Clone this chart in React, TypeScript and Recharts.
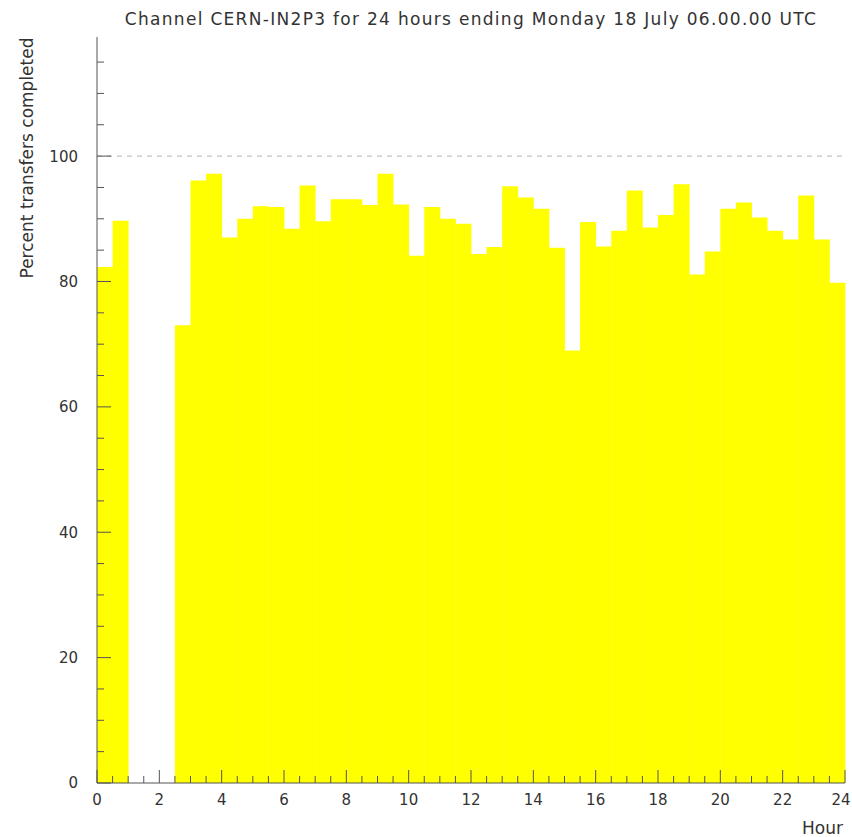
import { BarChart, Bar, XAxis, YAxis, ReferenceLine } from 'recharts'

const TITLE = 'Channel CERN-IN2P3 for 24 hours ending Monday 18 July 06.00.00 UTC'
const Y_LABEL = 'Percent transfers completed'
const X_LABEL = 'Hour'

// half-hour bins, centre of each bin (hours)
const BIN_CENTRES = [
  0.25, 0.75, 1.25, 1.75, 2.25, 2.75, 3.25, 3.75, 4.25, 4.75, 5.25, 5.75,
  6.25, 6.75, 7.25, 7.75, 8.25, 8.75, 9.25, 9.75, 10.25, 10.75, 11.25, 11.75,
  12.25, 12.75, 13.25, 13.75, 14.25, 14.75, 15.25, 15.75, 16.25, 16.75, 17.25, 17.75,
  18.25, 18.75, 19.25, 19.75, 20.25, 20.75, 21.25, 21.75, 22.25, 22.75, 23.25, 23.75,
]

// percent of transfers completed in each bin
const PERCENT = [
  82.3, 89.7, 0, 0, 0, 73.0, 96.1, 97.2, 87.0, 90.0, 92.0, 91.9,
  88.4, 95.3, 89.6, 93.1, 93.1, 92.2, 97.2, 92.3, 84.1, 91.9, 90.0, 89.2,
  84.4, 85.5, 95.2, 93.4, 91.6, 85.4, 69.0, 89.5, 85.6, 88.1, 94.5, 88.6,
  90.6, 95.5, 81.1, 84.8, 91.6, 92.6, 90.2, 88.1, 86.7, 93.7, 86.7, 79.8,
]

const Y_TICKS = [0, 5, 10, 15, 20, 25, 30, 35, 40, 45, 50, 55, 60, 65, 70, 75, 80, 85, 90, 95, 100, 105, 110, 115]
const Y_LABELLED = [0, 20, 40, 60, 80, 100]
const X_TICKS = [
  0, 0.5, 1, 1.5, 2, 2.5, 3, 3.5, 4, 4.5, 5, 5.5, 6, 6.5, 7, 7.5, 8, 8.5, 9, 9.5, 10, 10.5, 11, 11.5,
  12, 12.5, 13, 13.5, 14, 14.5, 15, 15.5, 16, 16.5, 17, 17.5, 18, 18.5, 19, 19.5, 20, 20.5, 21, 21.5,
  22, 22.5, 23, 23.5, 24,
]
const X_LABELLED = [0, 2, 4, 6, 8, 10, 12, 14, 16, 18, 20, 22, 24]

const W = 852
const H = 837
const FONT = '"DejaVu Sans", sans-serif'
const INK = '#333'
const AXIS = '#555'
const FRAME = '#a8a8a8'
const Y_MARGIN = 19

const data = BIN_CENTRES.map((hour, i) => ({ hour, pct: PERCENT[i] }))

function YTick(props: any) {
  const { x, y, payload } = props
  const axisX = x + Y_MARGIN
  const major = Y_LABELLED.includes(payload.value)
  return (
    <g>
      <line x1={axisX} x2={axisX + (major ? 14 : 7)} y1={y} y2={y} stroke={AXIS} />
      {major && (
        <text x={x} y={y} dy="0.36em" textAnchor="end" fontSize={15} fontFamily={FONT} fill={INK}>
          {payload.value}
        </text>
      )}
    </g>
  )
}

function XTick(props: any) {
  const { x, y, payload } = props
  const major = X_LABELLED.includes(payload.value)
  // keep the last label ("24") inside the page
  const tx = Math.min(x, W - 11)
  return (
    <g>
      <line x1={x} x2={x} y1={y} y2={y - (major ? 13 : 7)} stroke={AXIS} />
      {major && (
        <text x={tx} y={y + 22} textAnchor="middle" fontSize={15} fontFamily={FONT} fill={INK}>
          {payload.value}
        </text>
      )}
    </g>
  )
}

export default function App() {
  return (
    <div style={{ position: 'absolute', left: 0, top: 0, width: W, height: H, background: '#fff', fontFamily: FONT, color: INK }}>
      <div
        style={{
          position: 'absolute', left: 97, top: 11, width: 748, textAlign: 'center',
          fontSize: 17, lineHeight: '17px', letterSpacing: 1.3, whiteSpace: 'nowrap',
        }}
      >
        {TITLE}
      </div>
      <div
        style={{
          position: 'absolute', left: 27 - 150, top: 158 - 10, width: 300, height: 20,
          lineHeight: '20px', fontSize: 17, textAlign: 'center', transform: 'rotate(-90deg)',
        }}
      >
        {Y_LABEL}
      </div>
      <div style={{ position: 'absolute', right: W - 843, top: 820, fontSize: 17, lineHeight: '17px' }}>
        {X_LABEL}
      </div>
      <BarChart
        width={W}
        height={H}
        data={data}
        margin={{ top: 37, right: 7, bottom: 24, left: 37 }}
        barCategoryGap={0}
        barGap={0}
      >
        <ReferenceLine y={100} stroke="#b4b4b4" strokeDasharray="5 5" />
        <Bar dataKey="pct" fill="#ffff00" isAnimationActive={false} />
        <XAxis
          type="number"
          dataKey="hour"
          domain={[0, 24]}
          ticks={X_TICKS}
          interval={0}
          tick={XTick}
          tickSize={0}
          tickMargin={0}
          tickLine={false}
          axisLine={{ stroke: AXIS }}
          height={30}
        />
        <XAxis
          xAxisId="top"
          orientation="top"
          type="number"
          dataKey="hour"
          domain={[0, 24]}
          tick={false}
          tickLine={false}
          height={0}
          axisLine={{ stroke: FRAME }}
        />
        <YAxis
          domain={[0, 119]}
          ticks={Y_TICKS}
          interval={0}
          tick={YTick}
          tickSize={0}
          tickMargin={Y_MARGIN}
          tickLine={false}
          axisLine={{ stroke: AXIS }}
          width={60}
        />
        <YAxis
          yAxisId="right"
          orientation="right"
          domain={[0, 119]}
          tick={false}
          tickLine={false}
          width={0}
          axisLine={{ stroke: FRAME }}
        />
      </BarChart>
    </div>
  )
}
